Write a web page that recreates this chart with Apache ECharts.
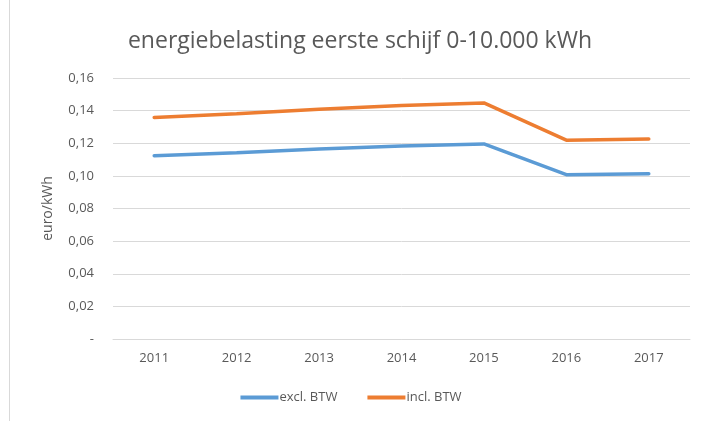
<!DOCTYPE html>
<html><head><meta charset="utf-8">
<script src="https://cdn.jsdelivr.net/npm/echarts@6/dist/echarts.min.js"></script>
<style>html,body{margin:0;padding:0;background:#fff}#c{width:702px;height:421px;position:relative}
#b{position:absolute;left:9px;top:-1px;width:700px;height:440px;border:1px solid #d9d9d9;pointer-events:none}</style>
</head><body><div id="c"></div><div id="b"></div>
<script>
const categories = ['2011','2012','2013','2014','2015','2016','2017'];
const exclBTW = [0.1124, 0.1142, 0.1164, 0.1183, 0.1196, 0.1007, 0.1013];
const inclBTW = [0.1358, 0.1381, 0.1408, 0.1432, 0.1447, 0.1219, 0.1226];
const seriesNames = ['excl. BTW', 'incl. BTW'];
const titleText = 'energiebelasting eerste schijf 0-10.000 kWh';
const yName = 'euro/kWh';

const chart = echarts.init(document.getElementById('c'));
const font = '"Open Sans", "Liberation Sans", sans-serif';
chart.setOption({
  animation: false,
  textStyle: { fontFamily: font },
  title: { text: titleText, top: 25, left: 355, textAlign: 'center',
    textStyle: { fontFamily: font, fontSize: 23, fontWeight: 'normal', color: '#595959' } },
  grid: { left: 113, right: 12, top: 78, bottom: 82 },
  legend: { bottom: 12, left: 'center', itemWidth: 38, itemHeight: 4, itemGap: 30,
    icon: 'rect',
    textStyle: { fontFamily: font, fontSize: 13, color: '#595959', padding: [0,0,0,-4] },
    data: seriesNames },
  xAxis: { type: 'category', data: categories, boundaryGap: true,
    axisLine: { lineStyle: { color: '#d9d9d9' } }, axisTick: { show: false },
    axisLabel: { fontSize: 13, color: '#595959', margin: 13 } },
  yAxis: { type: 'value', min: 0, max: 0.16, interval: 0.02,
    name: yName, nameLocation: 'middle', nameGap: 58, nameRotate: 90,
    nameTextStyle: { fontSize: 14, color: '#595959' },
    axisLine: { show: false }, axisTick: { show: false },
    splitLine: { lineStyle: { color: '#d9d9d9' } },
    axisLabel: { fontSize: 13, color: '#595959', margin: 19,
      formatter: v => v === 0 ? '-' : v.toFixed(2).replace('.', ',') } },
  series: [
    { name: seriesNames[0], type: 'line', data: exclBTW, symbol: 'none',
      lineStyle: { width: 3.5, color: '#5b9bd5', cap: 'round' }, itemStyle: { color: '#5b9bd5' } },
    { name: seriesNames[1], type: 'line', data: inclBTW, symbol: 'none',
      lineStyle: { width: 3.5, color: '#ed7d31', cap: 'round' }, itemStyle: { color: '#ed7d31' } }
  ]
});
</script></body></html>
